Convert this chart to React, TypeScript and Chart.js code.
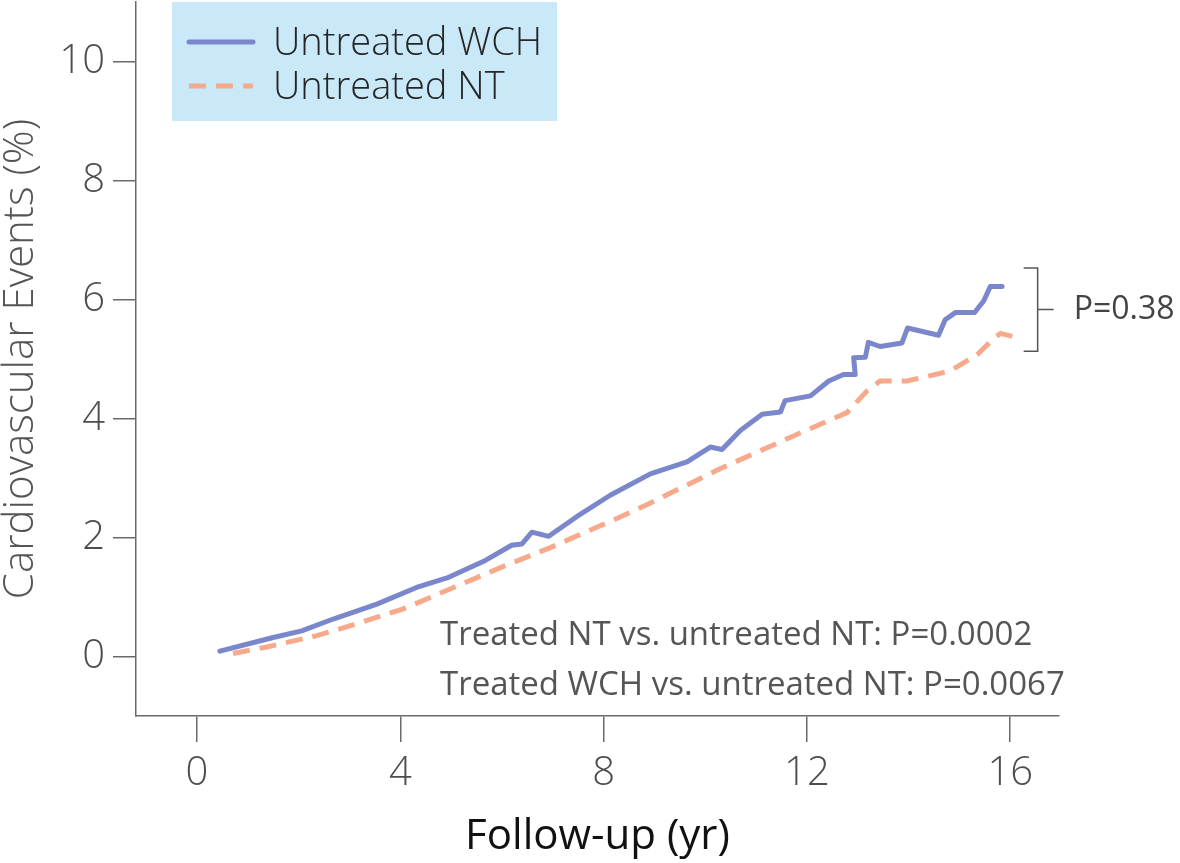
import React, { useEffect, useRef } from "react";
import { Chart, registerables } from "chart.js";

Chart.register(...registerables);

// ---- data ----
const wchX = [0.45, 1.5, 2.06, 2.68, 3.54, 4.32, 4.92, 5.64, 6.19, 6.39, 6.59, 6.92, 7.47, 8.13, 8.92, 9.64, 10.1, 10.33, 10.69, 11.12, 11.48, 11.57, 12.07, 12.43, 12.72, 12.95, 12.92, 13.15, 13.21, 13.44, 13.87, 13.98, 14.59, 14.72, 14.92, 15.3, 15.48, 15.61, 15.84];
const wchY = [0.09, 0.32, 0.43, 0.63, 0.88, 1.16, 1.32, 1.6, 1.87, 1.89, 2.09, 2.02, 2.35, 2.71, 3.07, 3.27, 3.52, 3.48, 3.8, 4.07, 4.11, 4.3, 4.38, 4.63, 4.74, 4.74, 5.02, 5.03, 5.28, 5.21, 5.27, 5.52, 5.4, 5.66, 5.78, 5.78, 5.98, 6.22, 6.22];

const ntX = [0.71, 1.37, 2.36, 3.14, 4.06, 5.05, 5.96, 6.95, 8.13, 8.85, 10.3, 11.61, 12.79, 13.18, 13.44, 13.97, 14.82, 15.35, 15.68, 15.81, 16.04];
const ntY = [0.05, 0.16, 0.35, 0.55, 0.8, 1.16, 1.49, 1.83, 2.27, 2.55, 3.16, 3.66, 4.1, 4.46, 4.63, 4.63, 4.8, 5.07, 5.35, 5.43, 5.38];

const xTicks = [0, 4, 8, 12, 16];
const yTicks = [0, 2, 4, 6, 8, 10];

const seriesLabels = ["Untreated WCH", "Untreated NT"];
const annotationLines = [
  "Treated NT vs. untreated NT: P=0.0002",
  "Treated WCH vs. untreated NT: P=0.0067",
];
const bracketText = "P=0.38";
const bracketLow = 5.13;
const bracketHigh = 6.53;
const bracketX = 16.54;

const xTitle = "Follow-up (yr)";
const yTitle = "Cardiovascular Events (%)";

const BLUE = "#7b87cc";
const ORANGE = "#f7a98c";
const AXIS = "#6a6a6a";
const FONT = "'Open Sans', 'Noto Sans', sans-serif";

const overlayPlugin = {
  id: "overlay",
  afterDraw(chart: any) {
    const ctx = chart.ctx as CanvasRenderingContext2D;
    const area = chart.chartArea;
    const xs = chart.scales.x;
    const ys = chart.scales.y;
    ctx.save();

    // legend box
    const bx = area.left + 36;
    const by = 2;
    ctx.fillStyle = "#c9e9f9";
    ctx.fillRect(bx, by, 385, 119);
    const rows = [
      { y: 42, color: BLUE, dash: [] as number[] },
      { y: 86, color: ORANGE, dash: [17, 10] },
    ];
    rows.forEach((r, i) => {
      ctx.beginPath();
      ctx.setLineDash(r.dash);
      ctx.lineWidth = 5;
      ctx.lineCap = r.dash.length ? "butt" : "round";
      ctx.strokeStyle = r.color;
      ctx.moveTo(bx + 17, r.y);
      ctx.lineTo(bx + 81, r.y);
      ctx.stroke();
      ctx.setLineDash([]);
      ctx.fillStyle = "#262626";
      ctx.font = `300 38px ${FONT}`;
      ctx.textAlign = "left";
      ctx.textBaseline = "alphabetic";
      ctx.fillText(seriesLabels[i], bx + 101, r.y + 13);
    });

    // annotation text
    ctx.fillStyle = "#555555";
    ctx.font = `400 33px ${FONT}`;
    ctx.textAlign = "left";
    ctx.textBaseline = "alphabetic";
    annotationLines.forEach((t, i) => {
      ctx.fillText(t, 440, 645 + i * 50);
    });

    // bracket
    const x0 = xs.getPixelForValue(bracketX);
    const yTop = ys.getPixelForValue(bracketHigh);
    const yBot = ys.getPixelForValue(bracketLow);
    const yMid = (yTop + yBot) / 2;
    ctx.strokeStyle = "#555";
    ctx.lineWidth = 1.5;
    ctx.beginPath();
    ctx.moveTo(x0 - 14, yTop);
    ctx.lineTo(x0, yTop);
    ctx.lineTo(x0, yBot);
    ctx.lineTo(x0 - 14, yBot);
    ctx.moveTo(x0, yMid);
    ctx.lineTo(x0 + 16, yMid);
    ctx.stroke();
    ctx.fillStyle = "#444";
    ctx.font = `400 32px ${FONT}`;
    ctx.textBaseline = "middle";
    ctx.fillText(bracketText, x0 + 36, yMid);

    ctx.restore();
  },
};

export default function App() {
  const ref = useRef<HTMLCanvasElement | null>(null);

  useEffect(() => {
    if (!ref.current) return;
    const chart = new Chart(ref.current, {
      type: "line",
      data: {
        datasets: [
          {
            label: seriesLabels[1],
            data: ntX.map((x, i) => ({ x, y: ntY[i] })),
            borderColor: ORANGE,
            borderWidth: 5,
            borderDash: [17, 10],
            pointRadius: 0,
            tension: 0,
            fill: false,
          },
          {
            label: seriesLabels[0],
            data: wchX.map((x, i) => ({ x, y: wchY[i] })),
            borderColor: BLUE,
            borderWidth: 5,
            borderJoinStyle: "round",
            borderCapStyle: "round",
            pointRadius: 0,
            tension: 0,
            fill: false,
          },
        ],
      },
      options: {
        responsive: false,
        animation: false,
        devicePixelRatio: 1,
        layout: { padding: { top: 2, right: 121, bottom: 0, left: 0 } },
        plugins: {
          legend: { display: false },
          tooltip: { enabled: false },
        },
        scales: {
          x: {
            type: "linear",
            min: -1.2,
            max: 16.96,
            afterFit: (s: any) => {
              s.height = 147;
              s.paddingLeft = 0;
              s.paddingRight = 0;
            },
            afterBuildTicks: (s: any) => {
              s.ticks = xTicks.map((v) => ({ value: v }));
            },
            grid: {
              display: true,
              drawOnChartArea: false,
              drawTicks: true,
              tickLength: 26,
              color: AXIS,
              lineWidth: 1.5,
            },
            border: { display: true, color: AXIS, width: 1.5 },
            ticks: {
              padding: 8,
              color: "#4d4d4d",
              font: { family: FONT, size: 40, weight: "300" },
              maxRotation: 0,
            },
            title: {
              display: true,
              text: xTitle,
              color: "#111",
              font: { family: FONT, size: 42, weight: "400", lineHeight: 1.2 },
              padding: { top: 0, bottom: 1 },
            },
          },
          y: {
            type: "linear",
            min: -1,
            max: 11,
            afterFit: (s: any) => {
              s.width = 136;
              s.paddingTop = 0;
              s.paddingBottom = 0;
            },
            afterBuildTicks: (s: any) => {
              s.ticks = yTicks.map((v) => ({ value: v }));
            },
            grid: {
              display: true,
              drawOnChartArea: false,
              drawTicks: true,
              tickLength: 23,
              color: AXIS,
              lineWidth: 1.5,
            },
            border: { display: true, color: AXIS, width: 1.5 },
            ticks: {
              padding: 8,
              color: "#4d4d4d",
              font: { family: FONT, size: 40, weight: "300" },
            },
            title: {
              display: true,
              text: yTitle,
              color: "#555",
              font: { family: FONT, size: 42, weight: "300", lineHeight: 1 },
              padding: { top: 0, bottom: 0 },
            },
          },
        },
      },
      plugins: [overlayPlugin],
    } as any);
    return () => chart.destroy();
  }, []);

  return (
    <div
      style={{
        position: "fixed",
        left: 0,
        top: 0,
        width: 1180,
        height: 863,
        background: "#fff",
      }}
    >
      <canvas ref={ref} width={1180} height={863} style={{ display: "block" }} />
    </div>
  );
}
